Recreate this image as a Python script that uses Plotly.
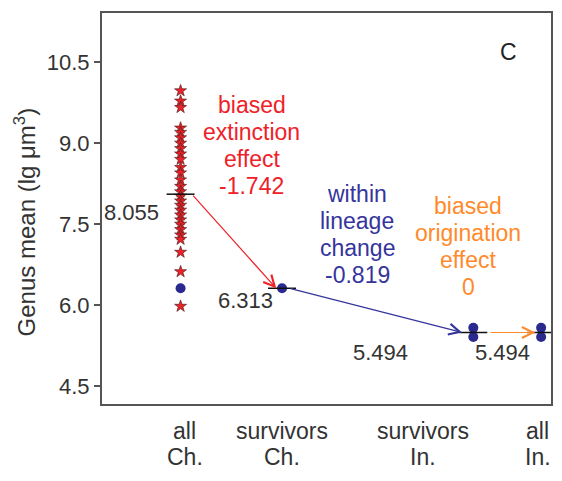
import plotly.graph_objects as go

# Group labels and their positions on the x axis
categories = ["all<br>Ch.", "survivors<br>Ch.", "survivors<br>In.", "all<br>In."]
group_x = [1.75, 4.01, 8.27, 9.78]
label_x = [1.84, 4.01, 7.14, 9.70]

# Genus mean sizes (lg µm³)
all_ch = [9.97, 9.78, 9.66, 9.28, 9.20, 9.10, 9.00, 8.90, 8.80, 8.70, 8.55,
          8.45, 8.32, 8.20, 8.10, 8.02, 7.93, 7.85, 7.76, 7.67, 7.58, 7.50,
          7.40, 7.30, 7.22, 6.98, 6.62, 5.98]
survivors_ch = [6.313]
survivors_in = [5.58, 5.41]
all_in = [5.58, 5.41]

# Group means and the effects between them
means = [8.055, 6.313, 5.494, 5.494]
effects = [-1.742, -0.819, 0]
effect_names = ["biased<br>extinction<br>effect", "within<br>lineage<br>change",
                "biased<br>origination<br>effect"]

RED = "#ee2128"
BLUE = "#35359c"
ORANGE = "#ff8a2b"
DOT = "#2a2a8e"
INK = "#333333"
FONT = "Liberation Sans, Arial, sans-serif"

fig = go.Figure()

# all Ch. genera as stars
fig.add_trace(go.Scatter(
    x=[group_x[0]] * len(all_ch), y=all_ch, mode="markers",
    marker=dict(symbol="star", size=9, color=RED,
                line=dict(color="#5a1f1f", width=0.7)),
    showlegend=False, hoverinfo="y"))

# survivors as blue dots (also shown in the all Ch. column)
dot_x = [group_x[0]] * len(survivors_ch) + [group_x[1]] * len(survivors_ch) \
    + [group_x[2]] * len(survivors_in) + [group_x[3]] * len(all_in)
dot_y = survivors_ch + survivors_ch + survivors_in + all_in
fig.add_trace(go.Scatter(
    x=dot_x, y=dot_y, mode="markers",
    marker=dict(symbol="circle", size=10, color=DOT),
    showlegend=False, hoverinfo="y"))

# group means as short horizontal bars
fig.add_trace(go.Scatter(
    x=group_x, y=means, mode="markers",
    marker=dict(symbol="line-ew-open", size=20, color="#111111",
                line=dict(color="#111111", width=1.5)),
    showlegend=False, hoverinfo="y"))

# arrows between means
arrow_specs = [
    (0, 1, RED, 0.25, 0.13),
    (1, 2, BLUE, 0.16, 0.25),
    (2, 3, ORANGE, 0.35, 0.13),
]
for i, j, col, off0, off1 in arrow_specs:
    fig.add_annotation(
        x=group_x[j] - off1, y=means[j], ax=group_x[i] + off0, ay=means[i],
        xref="x", yref="y", axref="x", ayref="y", text="",
        showarrow=True, arrowhead=5, arrowsize=1.8, arrowwidth=1.2,
        arrowcolor=col)

# effect labels, one annotation per line for tight spacing
LINE_STEP = 0.5  # data units between text lines
effect_pos = [(3.33, 8.96, RED), (5.68, 7.31, BLUE), (8.16, 7.09, ORANGE)]
for (ex, ey, col), name, val in zip(effect_pos, effect_names, effects):
    lines = name.split("<br>") + [f"{val:g}" if val == 0 else f"{val:.3f}"]
    top = ey + LINE_STEP * (len(lines) - 1) / 2
    for k, line in enumerate(lines):
        fig.add_annotation(x=ex, y=top - k * LINE_STEP, xref="x", yref="y",
                           text=line, showarrow=False, xanchor="center",
                           yanchor="middle",
                           font=dict(family=FONT, size=23, color=col))

# mean value labels
mean_label_pos = [(1.31, 7.72), (3.86, 6.09), (6.85, 5.13), (9.58, 5.13)]
for (mx, my), m in zip(mean_label_pos, means):
    fig.add_annotation(x=mx, y=my, xref="x", yref="y", text=f"{m:.3f}",
                       showarrow=False, xanchor="right", yanchor="middle",
                       font=dict(family=FONT, size=22, color=INK))

# group names under the axis
for lx, cat in zip(label_x, categories):
    for k, line in enumerate(cat.split("<br>")):
        fig.add_annotation(x=lx, y=-0.068 - k * 0.067, xref="x", yref="paper",
                           text=line, showarrow=False, xanchor="center",
                           yanchor="middle",
                           font=dict(family=FONT, size=23, color=INK))

# panel letter
fig.add_annotation(x=0.905, y=0.90, xref="paper", yref="paper", text="C",
                   showarrow=False, xanchor="center", yanchor="middle",
                   font=dict(family=FONT, size=23, color="#222"))

# y-axis title
fig.add_annotation(x=-0.171, y=0.465, xref="paper", yref="paper",
                   text="Genus mean (lg μm<sup>3</sup>)", textangle=-90,
                   showarrow=False, xanchor="center", yanchor="middle",
                   font=dict(family=FONT, size=24, color=INK))

fig.update_xaxes(range=[0, 10], showline=True, mirror=True, linecolor="#555",
                 linewidth=2, showgrid=False, zeroline=False,
                 showticklabels=False, ticks="")
fig.update_yaxes(range=[4.17, 11.41], showline=True, mirror=True,
                 linecolor="#555", linewidth=2, showgrid=False, zeroline=False,
                 tickvals=[4.5, 6.0, 7.5, 9.0, 10.5], tickformat=".1f",
                 ticks="outside", ticklen=6, tickcolor="#555", tickwidth=1.5,
                 tickfont=dict(family=FONT, size=22, color=INK))

fig.update_layout(width=562, height=481,
                  margin=dict(l=102, r=9, t=13, b=77),
                  plot_bgcolor="white", paper_bgcolor="white",
                  showlegend=False)

fig.write_html("out.html")
